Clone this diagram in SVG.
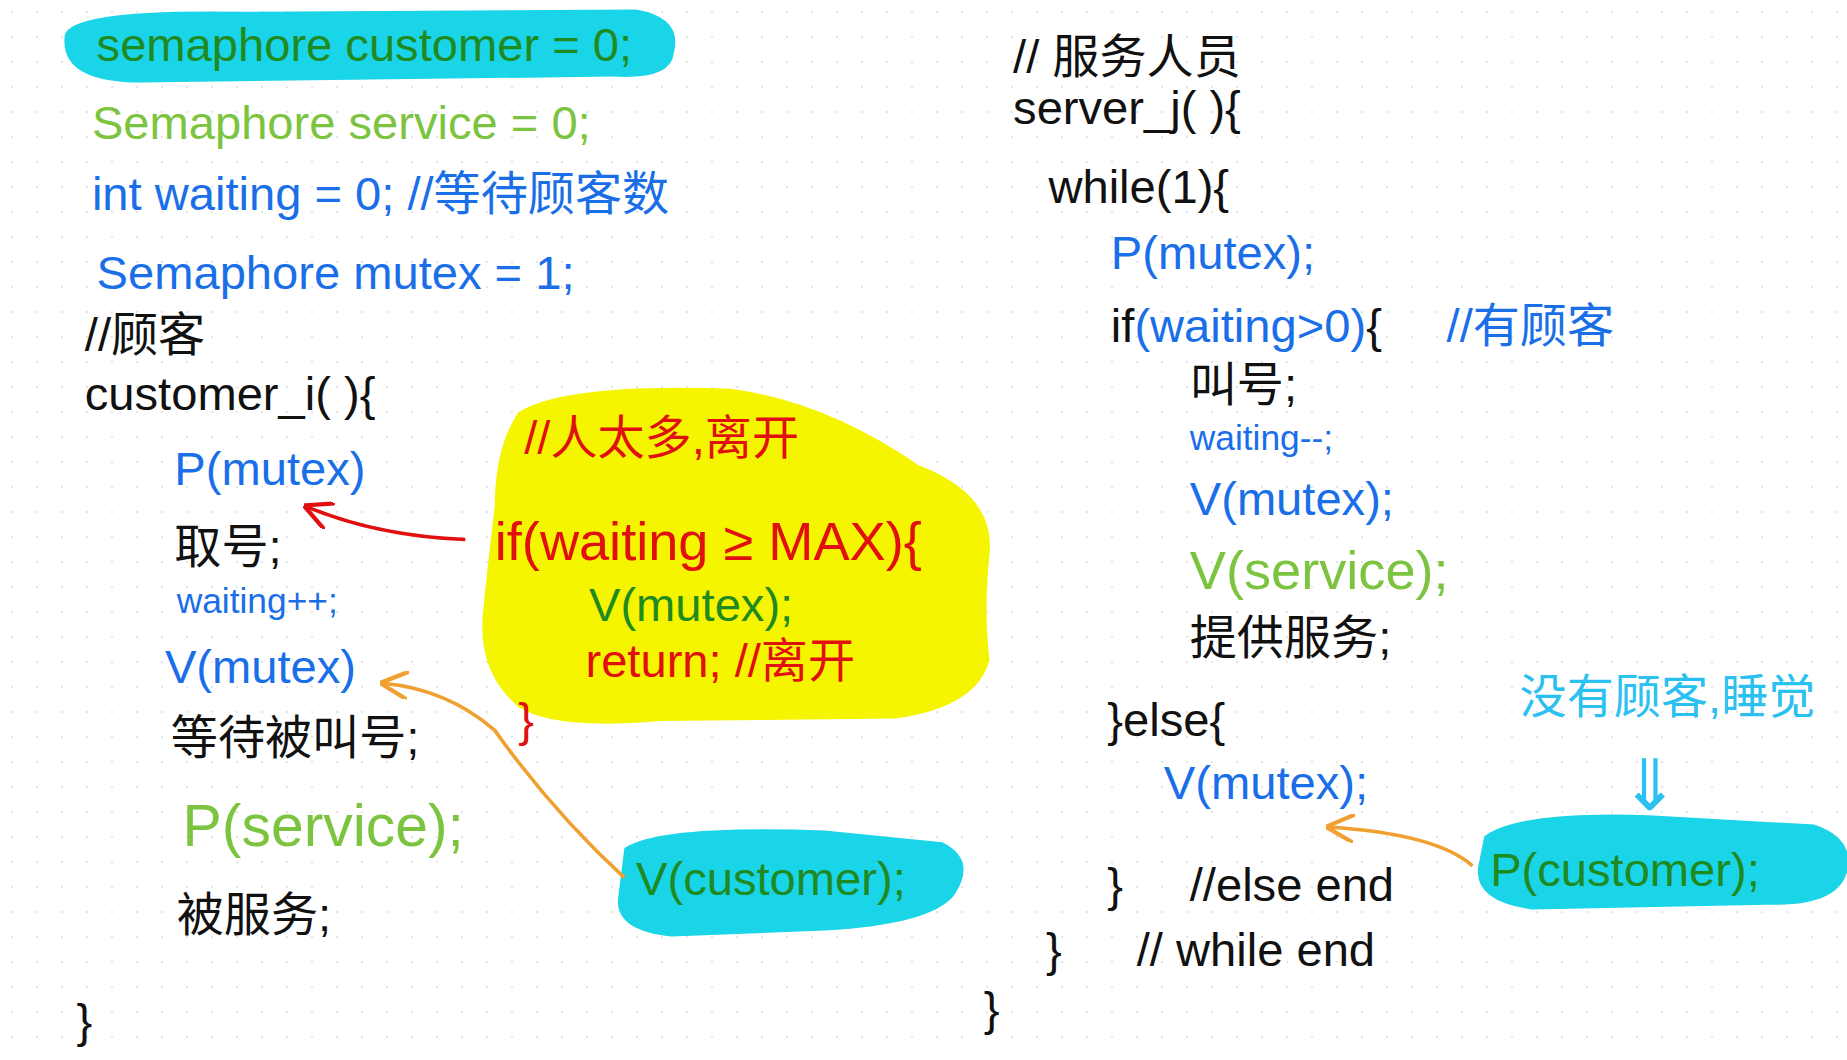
<svg xmlns="http://www.w3.org/2000/svg" width="1847" height="1060" viewBox="0 0 1847 1060">
<style>
text{font-family:"Liberation Sans","Noto Sans CJK SC",sans-serif;font-size:40px}
.k{fill:#111}.b{fill:#1a6fe8}.g{fill:#7cc440}.d{fill:#1f8a1f}.r{fill:#e01010}.c{fill:#2ac0f0}
.s{font-size:30px}.L{font-size:50px}
</style>
<defs>
<pattern id="dots" width="25" height="25" patternUnits="userSpaceOnUse"><circle cx="12" cy="12" r="1" fill="#dcdcdc"/></pattern>
<marker id="ar" viewBox="0 0 10 10" refX="9" refY="5" markerWidth="8" markerHeight="8" orient="auto"><path d="M0,0 L10,5 L0,10" fill="none" stroke="context-stroke" stroke-width="1.5"/></marker>
</defs>
<rect width="1847" height="1060" fill="#fff"/>
<rect width="1847" height="1060" fill="url(#dots)"/>
<g transform="scale(1.178)">
<g id="highlights">
<path d="M55,30 Q60,8 200,10 L540,8 Q580,15 572,45 Q570,68 520,65 L120,70 Q50,70 55,30Z" fill="#1ad5e8"/>
<path d="M440,350 Q480,325 620,330 Q700,340 780,395 Q845,420 840,470 Q835,520 840,560 Q830,600 760,610 L560,612 Q470,620 440,600 Q405,570 410,520 Q415,470 420,430 Q420,380 440,350Z" fill="#f5f500"/>
<path d="M530,720 Q560,700 700,705 L800,715 Q830,730 810,760 Q790,785 700,790 L570,795 Q520,790 525,760Z" fill="#1ad5e8"/>
<path d="M1260,710 Q1290,688 1400,692 L1540,700 Q1575,712 1568,740 Q1560,770 1500,768 L1300,772 Q1250,765 1255,735Z" fill="#1ad5e8"/>
</g>
<g id="left">
<text x="82" y="52" class="d">semaphore customer = 0;</text>
<text x="78" y="118" class="g">Semaphore service = 0;</text>
<text x="78" y="178" class="b">int waiting = 0;  //等待顾客数</text>
<text x="82" y="245" class="b">Semaphore mutex = 1;</text>
<text x="72" y="298" class="k">//顾客</text>
<text x="72" y="348" class="k">customer_i( ){</text>
<text x="148" y="412" class="b">P(mutex)</text>
<text x="148" y="478" class="k">取号;</text>
<text x="150" y="520" class="b s">waiting++;</text>
<text x="140" y="580" class="b">V(mutex)</text>
<text x="145" y="640" class="k">等待被叫号;</text>
<text x="155" y="718" class="g L">P(service);</text>
<text x="150" y="790" class="k">被服务;</text>
<text x="65" y="880" class="k">}</text>
<text x="445" y="385" class="r">//人太多,离开</text>
<text x="420" y="475" class="r" style="font-size:46px">if(waiting ≥ MAX){</text>
<text x="500" y="527" class="d">V(mutex);</text>
<text x="497" y="575" class="r">return;  //离开</text>
<text x="440" y="625" class="r">}</text>
<text x="540" y="760" class="d">V(customer);</text>
</g>
<g id="right">
<text x="860" y="62" class="k">// 服务人员</text>
<text x="860" y="105" class="k">server_j( ){</text>
<text x="890" y="172" class="k">while(1){</text>
<text x="943" y="228" class="b">P(mutex);</text>
<text x="943" y="290"><tspan class="k">if</tspan><tspan class="b">(waiting&gt;0)</tspan><tspan class="k">{</tspan></text>
<text x="1228" y="290" class="b">//有顾客</text>
<text x="1010" y="340" class="k">叫号;</text>
<text x="1010" y="382" class="b s">waiting--;</text>
<text x="1010" y="437" class="b">V(mutex);</text>
<text x="1010" y="500" class="g" style="font-size:46px">V(service);</text>
<text x="1010" y="555" class="k">提供服务;</text>
<text x="940" y="625" class="k">}else{</text>
<text x="988" y="678" class="b">V(mutex);</text>
<text x="940" y="765" class="k">}</text>
<text x="1010" y="765" class="k">//else end</text>
<text x="888" y="820" class="k">}</text>
<text x="965" y="820" class="k">// while end</text>
<text x="835" y="870" class="k">}</text>
<text x="1290" y="605" class="c">没有顾客,睡觉</text>
<text x="1375" y="688" class="c" style="font-size:60px">⇓</text>
<text x="1265" y="752" class="d">P(customer);</text>
</g>
<g id="connectors" fill="none" stroke-width="3">
<path d="M395,458 Q320,455 260,430" stroke="#e01010" marker-end="url(#ar)"/>
<path d="M530,745 Q470,690 420,620 Q380,585 325,580" stroke="#f0a030" marker-end="url(#ar)"/>
<path d="M1250,735 Q1220,708 1128,702" stroke="#f0a030" marker-end="url(#ar)"/>
</g>
</g>
</svg>
